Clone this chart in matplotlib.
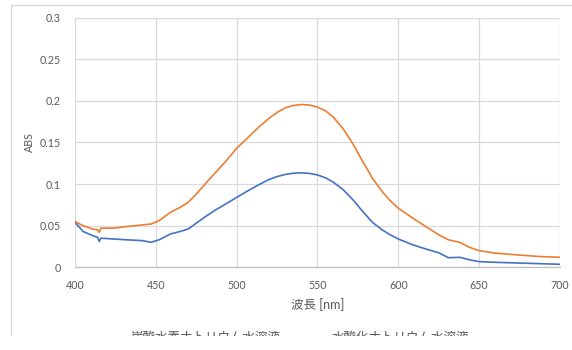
import matplotlib
matplotlib.use("Agg")
import matplotlib.pyplot as plt
from matplotlib.lines import Line2D
from matplotlib.patches import Rectangle

plt.rcParams['font.family'] = ['Lato', 'Noto Sans CJK JP', 'DejaVu Sans']

wavelength = [400, 405, 411, 414, 415, 416, 424, 432, 442, 447, 452, 459, 465, 470,
              475, 480, 487, 494, 500, 507, 514, 520, 525, 530, 535, 540, 545, 550,
              555, 560, 566, 572, 578, 584, 590, 595, 600, 609, 617, 625, 631, 638,
              644, 650, 660, 673, 687, 700]

nahco3 = [0.054, 0.043, 0.038, 0.036, 0.031, 0.035, 0.034, 0.033, 0.032, 0.030,
          0.033, 0.040, 0.043, 0.046, 0.053, 0.060, 0.069, 0.077, 0.084, 0.092,
          0.0995, 0.1055, 0.109, 0.1115, 0.113, 0.1135, 0.1128, 0.111, 0.1075,
          0.102, 0.093, 0.081, 0.067, 0.054, 0.045, 0.039, 0.034, 0.027, 0.022,
          0.0175, 0.0115, 0.012, 0.009, 0.0068, 0.006, 0.0052, 0.0044, 0.0036]

naoh = [0.055, 0.050, 0.046, 0.045, 0.042, 0.047, 0.047, 0.049, 0.051, 0.052,
        0.056, 0.066, 0.072, 0.078, 0.088, 0.099, 0.114, 0.129, 0.143, 0.156,
        0.169, 0.179, 0.186, 0.1915, 0.1945, 0.1955, 0.195, 0.1925, 0.188,
        0.180, 0.166, 0.148, 0.127, 0.107, 0.091, 0.080, 0.071, 0.059, 0.049,
        0.039, 0.033, 0.030, 0.024, 0.020, 0.017, 0.015, 0.013, 0.012]

series_names = ['炭酸水素ナトリウム水溶液', '水酸化ナトリウム水溶液']
series_colors = ['#4472C4', '#ED7D31']
x_ticks = [400, 450, 500, 550, 600, 650, 700]
y_ticks = [0, 0.05, 0.1, 0.15, 0.2, 0.25, 0.3]
y_tick_labels = ['0', '0.05', '0.1', '0.15', '0.2', '0.25', '0.3']

W, H = 572, 350
fig = plt.figure(figsize=(W / 100, H / 100), dpi=100)
ax = fig.add_axes([75 / W, 1 - 267.3 / H, (560 - 75) / W, (267.3 - 17.6) / H])

grid_c = '#d9d9d9'
text_c = '#595959'

l1, = ax.plot(wavelength, nahco3, color=series_colors[0], lw=1.2, zorder=3)
l2, = ax.plot(wavelength, naoh, color=series_colors[1], lw=1.2, zorder=3)

ax.set_xlim(400, 700)
ax.set_ylim(0, 0.3)
ax.set_xticks(x_ticks)
ax.set_yticks(y_ticks)
ax.set_yticklabels(y_tick_labels)
ax.grid(True, color=grid_c, lw=0.9)
ax.set_axisbelow(True)
for s in ['top', 'right', 'left']:
    ax.spines[s].set_visible(False)
ax.spines['bottom'].set_color('#bfbfbf')
ax.spines['bottom'].set_linewidth(0.9)
ax.tick_params(length=0, labelsize=7.7, colors=text_c)
ax.tick_params(axis='y', pad=10)
ax.tick_params(axis='x', pad=9)

fig.text(29 / W, 1 - 142 / H, 'ABS', rotation=90, ha='center', va='center',
         fontsize=7.7, color=text_c)
fig.text(318 / W, 1 - 305 / H, '波長 [nm]', ha='center', va='center',
         fontsize=9, color=text_c)

# outer chart frame (left and top edges visible)
fig.add_artist(Line2D([10.5 / W, 10.5 / W], [0, 1 - 5 / H], color=grid_c, lw=0.9))
fig.add_artist(Line2D([10.5 / W, 1], [1 - 5 / H, 1 - 5 / H], color=grid_c, lw=0.9))

fig.legend([l1, l2], series_names, loc='center', ncol=2, frameon=False,
           bbox_to_anchor=(284 / W, 1 - 337 / H), fontsize=9,
           labelcolor=text_c, handlelength=2.0, columnspacing=1.5,
           handletextpad=0.6)

# the screenshot is cut off below the legend text
fig.add_artist(Rectangle((0, 0), 1, (H - 336) / H, transform=fig.transFigure,
                         facecolor='white', edgecolor='none', zorder=10))

fig.savefig('out.png', dpi=100)
